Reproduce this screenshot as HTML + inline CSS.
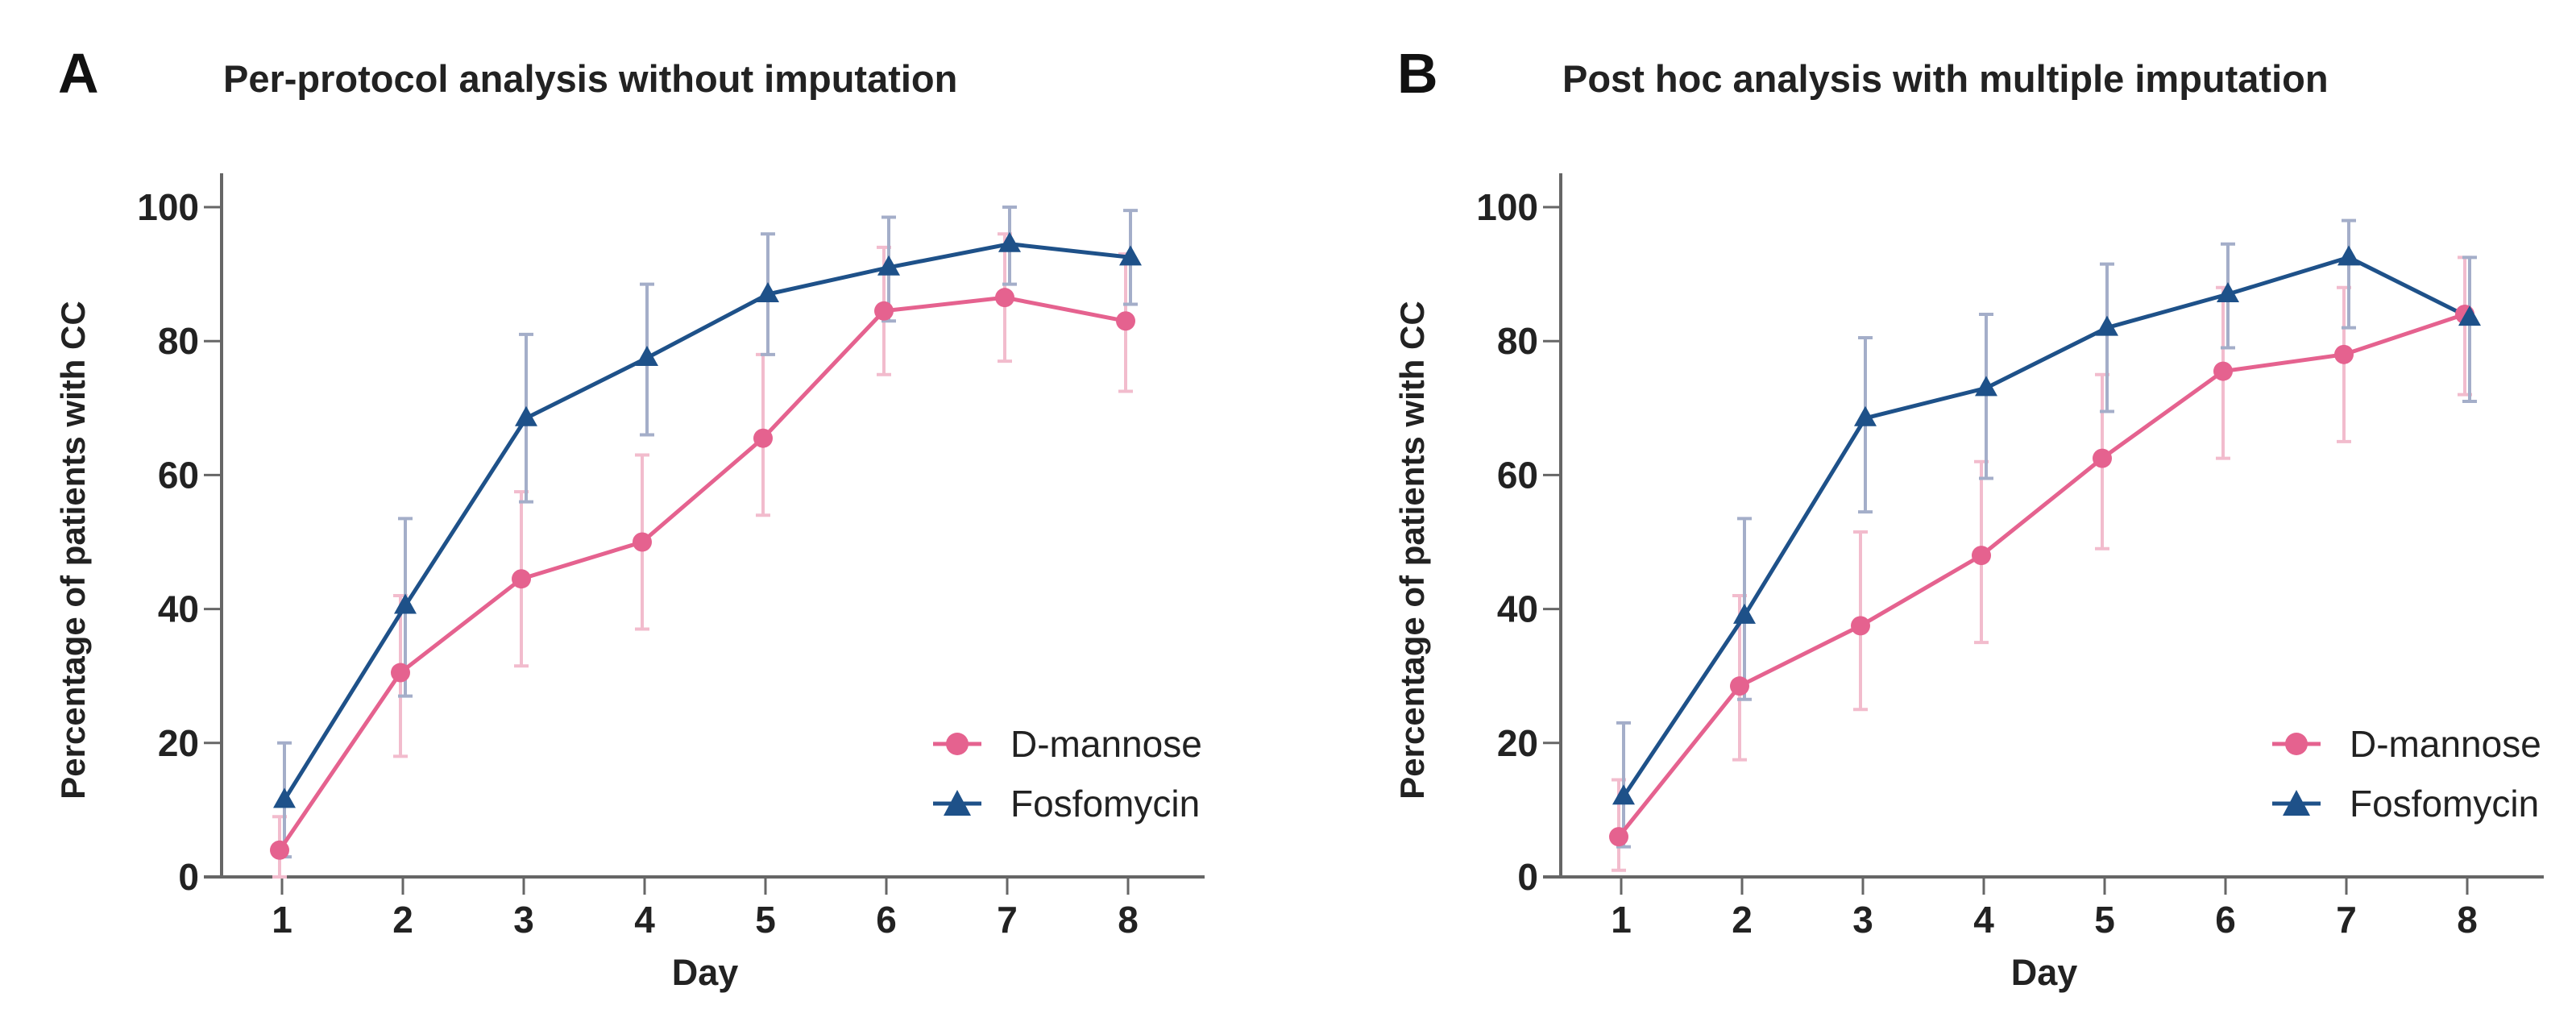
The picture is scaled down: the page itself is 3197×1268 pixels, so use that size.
<!DOCTYPE html>
<html><head><meta charset="utf-8"><style>
html,body{margin:0;padding:0;background:#fff;}
svg{display:block;font-family:"Liberation Sans",Arial,sans-serif;}
</style></head><body>
<svg id="fig" width="3197" height="1268" viewBox="0 0 3197 1268"></svg>
<script>
const days = [1,2,3,4,5,6,7,8];
const yTicks = [0,20,40,60,80,100];
const titles = ["Per-protocol analysis without imputation","Post hoc analysis with multiple imputation"];
const panelLetters = ["A","B"];
const seriesNames = ["D-mannose","Fosfomycin"];
// Panel A
const aMan = [4,30.5,44.5,50,65.5,84.5,86.5,83];
const aManLo = [0,18,31.5,37,54,75,77,72.5];
const aManHi = [9,42,57.5,63,78,94,96,93];
const aFos = [11.5,40.5,68.5,77.5,87,91,94.5,92.5];
const aFosLo = [3,27,56,66,78,83,88.5,85.5];
const aFosHi = [20,53.5,81,88.5,96,98.5,100,99.5];
// Panel B
const bMan = [6,28.5,37.5,48,62.5,75.5,78,84];
const bManLo = [1,17.5,25,35,49,62.5,65,72];
const bManHi = [14.5,42,51.5,62,75,88,88,92.5];
const bFos = [12,39,68.5,73,82,87,92.5,83.5];
const bFosLo = [4.5,26.5,54.5,59.5,69.5,79,82,71];
const bFosHi = [23,53.5,80.5,84,91.5,94.5,98,92.5];

const NS="http://www.w3.org/2000/svg";
const svg=document.getElementById('fig');
function mk(tag,attrs,parent){const e=document.createElementNS(NS,tag);for(const k in attrs)e.setAttribute(k,attrs[k]);(parent||svg).appendChild(e);return e;}

const PINK="#e5628f", PINKE="#f2bccd", BLUE="#1e5189", BLUEE="#a4aec9";
const panels=[
 {ax:275, man:aMan,manLo:aManLo,manHi:aManHi,fos:aFos,fosLo:aFosLo,fosHi:aFosHi},
 {ax:1937,man:bMan,manLo:bManLo,manHi:bManHi,fos:bFos,fosLo:bFosLo,fosHi:bFosHi}
];
const y0=1088, yPer=8.31;
panels.forEach((p,pi)=>{
  const g=mk('g',{});
  
  
  const X=d=>p.ax+75+(d-1)*150;
  const Y=v=>y0-v*yPer;
  let t=mk('text',{x:p.ax-203,y:115,'font-size':70,'font-weight':'bold',fill:'#111'},g);t.textContent=panelLetters[pi];
  
  t=mk('text',{x:p.ax+2,y:114,'font-size':47,'font-weight':'bold',fill:'#222'},g);t.textContent=titles[pi];
  
  // axes
  let l=mk('line',{x1:p.ax,y1:215,x2:p.ax,y2:y0,stroke:'#666','stroke-width':4},g);
  
  l=mk('line',{x1:p.ax-22,y1:y0,x2:p.ax+1220,y2:y0,stroke:'#666','stroke-width':4},g);
  
  yTicks.forEach(v=>{
    mk('line',{x1:p.ax-22,y1:Y(v),x2:p.ax,y2:Y(v),stroke:'#666','stroke-width':3},g);
    const tt=mk('text',{x:p.ax-28,y:Y(v)+16,'font-size':46,'font-weight':'bold','text-anchor':'end',fill:'#222'},g);
    tt.textContent=v;
    
  });
  days.forEach(d=>{
    mk('line',{x1:X(d),y1:y0,x2:X(d),y2:y0+22,stroke:'#666','stroke-width':3},g);
    const tt=mk('text',{x:X(d),y:1157,'font-size':46,'font-weight':'bold','text-anchor':'middle',fill:'#222'},g);
    tt.textContent=d;
    
  });
  t=mk('text',{x:X(4.5),y:1222,'font-size':45,'font-weight':'bold','text-anchor':'middle',fill:'#222'},g);t.textContent='Day';
  
  const cy=(Y(0)+Y(100))/2+10;
  t=mk('text',{x:0,y:0,'font-size':42,'font-weight':'bold','text-anchor':'middle',fill:'#222',transform:`translate(${p.ax-170},${cy}) rotate(-90)`},g);
  t.textContent='Percentage of patients with CC';
  
  // error bars
  function errs(vals,lo,hi,col,name,dx){
    days.forEach((d,i)=>{
      const x=X(d)+dx;
      const e=mk('path',{d:`M${x},${Y(lo[i])}V${Y(hi[i])}M${x-9},${Y(lo[i])}h18M${x-9},${Y(hi[i])}h18`,stroke:col,'stroke-width':4,fill:'none'},g);
      
      
    });
  }
  errs(p.man,p.manLo,p.manHi,PINKE,'d-mannose',-3);
  errs(p.fos,p.fosLo,p.fosHi,BLUEE,'fosfomycin',3);
  function line(vals,col,name,dx){
    const e=mk('polyline',{points:days.map((d,i)=>`${X(d)+dx},${Y(vals[i])}`).join(' '),stroke:col,'stroke-width':5,fill:'none'},g);
    
    
  }
  line(p.man,PINK,'d-mannose',-3);
  line(p.fos,BLUE,'fosfomycin',3);
  days.forEach((d,i)=>{
    const c=mk('circle',{cx:X(d)-3,cy:Y(p.man[i]),r:12,fill:PINK},g);
    
    
    const x=X(d)+3,y=Y(p.fos[i]);
    const tr=mk('path',{d:`M${x},${y-15}L${x+14},${y+10}L${x-14},${y+10}Z`,fill:BLUE},g);
    
    
  });
  // legend
  const lx=p.ax+913;
  const lg=mk('g',{},g);
  
  mk('line',{x1:lx-30,y1:923,x2:lx+30,y2:923,stroke:PINK,'stroke-width':5},lg);
  mk('circle',{cx:lx,cy:923,r:14,fill:PINK},lg);
  t=mk('text',{x:lx+66,y:939,'font-size':46,fill:'#222'},lg);t.textContent=seriesNames[0];
  
  mk('line',{x1:lx-30,y1:997,x2:lx+30,y2:997,stroke:BLUE,'stroke-width':5},lg);
  mk('path',{d:`M${lx},${980}L${lx+17},${1012}L${lx-17},${1012}Z`,fill:BLUE},lg);
  t=mk('text',{x:lx+66,y:1013,'font-size':46,fill:'#222'},lg);t.textContent=seriesNames[1];
  
});
</script>
</body></html>
